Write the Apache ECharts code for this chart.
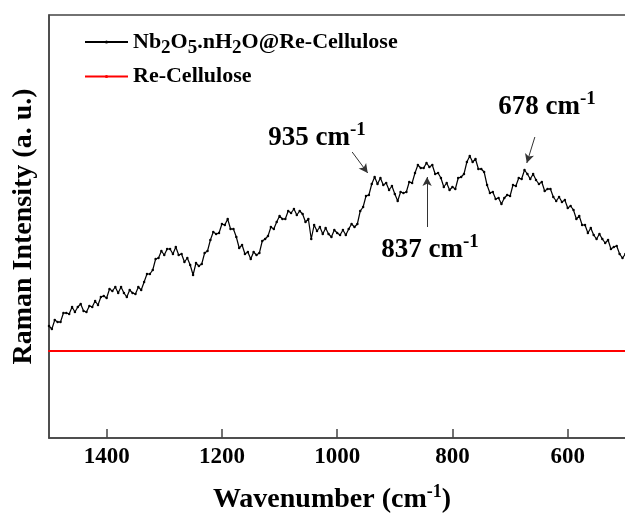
<!DOCTYPE html>
<html>
<head>
<meta charset="utf-8">
<script src="https://cdn.jsdelivr.net/npm/echarts@6/dist/echarts.min.js"></script>
<style>
  html, body { margin: 0; padding: 0; background: #fff; }
  #chart { width: 625px; height: 514px; }
</style>
</head>
<body>
<div id="chart"></div>
<script>
// wavenumber (cm-1) and intensity (a. u.)
const wnBlack = [1500,1495,1490,1485,1480,1475,1470,1465,1460,1455,1450,1445,1440,1435,1430,1425,1420,1415,1410,1405,
  1400,1395,1390,1385,1380,1375,1370,1365,1360,1355,1350,1345,1340,1335,1330,1325,1320,1315,1310,1305,
  1300,1295,1290,1285,1280,1275,1270,1265,1260,1255,1250,1245,1240,1235,1230,1225,1220,1215,1210,1205,
  1200,1195,1190,1185,1180,1175,1170,1165,1160,1155,1150,1145,1140,1135,1130,1125,1120,1115,1110,1105,
  1100,1095,1090,1085,1080,1075,1070,1065,1060,1055,1050,1045,1040,1035,1030,1025,1020,1015,1010,1005,
  1000,995,990,985,980,975,970,965,960,955,950,945,940,935,930,925,920,915,910,905,
  900,895,890,885,880,875,870,865,860,855,850,845,840,835,830,825,820,815,810,805,
  800,795,790,785,780,775,770,765,760,755,750,745,740,735,730,725,720,715,710,705,
  700,695,690,685,680,675,670,665,660,655,650,645,640,635,630,625,620,615,610,605,
  600,595,590,585,580,575,570,565,560,555,550,545,540,535,530,525,520,515,510,505,500];
const nbIntensity = [112,109,118,116,116,125,125,124,131,126,131,134,127,126,132,131,137,133,141,142,
  140,149,147,151,145,151,145,141,148,145,144,151,148,156,164,164,168,179,180,187,
  183,189,189,184,191,183,184,176,180,173,163,175,172,174,185,187,198,206,204,205,
  214,213,219,209,209,201,190,193,184,186,179,186,183,185,197,199,202,211,209,216,
  222,219,219,227,225,229,223,227,224,216,219,199,213,207,211,204,210,204,201,208,
  205,203,208,203,209,214,211,214,227,231,242,243,254,261,254,260,253,255,248,252,
  244,237,246,245,246,256,255,265,273,270,270,275,271,273,264,265,260,251,255,248,
  251,249,260,261,264,276,282,276,279,269,269,266,253,245,246,239,240,234,240,243,
  242,253,252,260,259,268,264,259,264,258,254,256,247,249,249,241,237,241,236,238,
  230,232,228,219,222,213,213,205,210,203,199,204,199,195,198,189,191,192,184,180,184];
const wnRed = [1500,1450,1400,1350,1300,1250,1200,1150,1100,1050,1000,950,900,850,800,750,700,650,600,550,500];
const reIntensity = [87,87,87,87,87,87,87,87,87,87,87,87,87,87,87,87,87,87,87,87,87];

// peak labels: [label, text x, text y, arrow from x, from y, to x, to y]
const peaks = [
  ['935', 1035, 300, 974, 286, 947, 265],
  ['837', 839, 188, 844, 211, 844, 261],
  ['678', 636, 331, 657, 301, 671, 275]
];

const FONT = 'Liberation Serif';
const nbName = 'Nb2O5.nH2O@Re-Cellulose';
const reName = 'Re-Cellulose';

const myChart = echarts.init(document.getElementById('chart'));

const option = {
  animation: false,
  backgroundColor: '#fff',
  grid: {
    left: 49, top: 15, bottom: 76, right: -58,
    show: true, borderColor: '#444', borderWidth: 1.5,
    outerBoundsMode: 'none'
  },
  legend: {
    orient: 'vertical',
    left: 79, top: 26,
    itemWidth: 43, itemHeight: 4, itemGap: 8,
    textStyle: {
      fontFamily: FONT, fontWeight: 'bold', fontSize: 22, color: '#000',
      rich: {
        b: {fontFamily: FONT, fontWeight: 'bold', fontSize: 22, color: '#000'},
        sub: {fontFamily: FONT, fontWeight: 'bold', fontSize: 19, color: '#000', padding: [12, 0, 0, 0]}
      }
    },
    formatter: function (name) {
      if (name === nbName) {
        return '{b|Nb}{sub|2}{b|O}{sub|5}{b|.nH}{sub|2}{b|O@Re-Cellulose}';
      }
      return name;
    },
    data: [nbName, reName]
  },
  xAxis: {
    type: 'value',
    inverse: true,
    min: 400, max: 1500, interval: 200,
    name: 'Wavenumber (cm{sup|-1})',
    nameLocation: 'middle',
    nameGap: 45,
    nameTextStyle: {
      fontFamily: FONT, fontWeight: 'bold', fontSize: 28, color: '#000',
      padding: [0, 68, 0, 0],
      rich: {
        sup: {fontFamily: FONT, fontWeight: 'bold', fontSize: 18, color: '#000', padding: [0, 0, 15, 0]}
      }
    },
    axisLine: {show: true, lineStyle: {color: '#444', width: 1.5}},
    axisTick: {show: true, inside: true, length: 9, lineStyle: {color: '#444', width: 1.5}},
    axisLabel: {
      showMaxLabel: false,
      margin: 8,
      formatter: v => String(v),
      fontFamily: FONT, fontWeight: 'bold', fontSize: 23, color: '#000'
    },
    splitLine: {show: false}
  },
  yAxis: {
    type: 'value',
    min: 0, max: 423,
    name: 'Raman Intensity (a. u.)',
    nameLocation: 'middle',
    nameGap: 11,
    nameTextStyle: {fontFamily: FONT, fontWeight: 'bold', fontSize: 28, color: '#000'},
    axisLine: {show: true, lineStyle: {color: '#444', width: 1.5}},
    axisTick: {show: false},
    axisLabel: {show: false},
    splitLine: {show: false}
  },
  series: [
    {
      name: nbName,
      type: 'line',
      data: wnBlack.map((w, i) => [w, nbIntensity[i]]),
      symbol: 'circle',
      symbolSize: 2.5,
      showSymbol: true,
      lineStyle: {color: '#000', width: 1.2},
      itemStyle: {color: '#000'},
      markLine: {
        silent: true,
        symbol: ['none', 'arrow'],
        symbolSize: [7, 9],
        label: {show: false},
        lineStyle: {color: '#333', width: 1, type: 'solid'},
        data: peaks.map(p => [{coord: [p[3], p[4]]}, {coord: [p[5], p[6]]}])
      },
      markPoint: {
        silent: true,
        symbol: 'circle',
        symbolSize: 0,
        label: {
          show: true,
          position: 'inside',
          formatter: function (d) { return '{t|' + d.name + ' cm}{sup|-1}'; },
          rich: {
            t: {fontFamily: FONT, fontWeight: 'bold', fontSize: 27, color: '#000'},
            sup: {fontFamily: FONT, fontWeight: 'bold', fontSize: 19, color: '#000', padding: [0, 0, 15, 0]}
          }
        },
        data: peaks.map(p => ({name: p[0], coord: [p[1], p[2]]}))
      }
    },
    {
      name: reName,
      type: 'line',
      data: wnRed.map((w, i) => [w, reIntensity[i]]),
      symbol: 'circle',
      symbolSize: 2,
      lineStyle: {color: '#ff0000', width: 2},
      itemStyle: {color: '#ff0000'}
    }
  ]
};

myChart.setOption(option);
</script>
</body>
</html>
